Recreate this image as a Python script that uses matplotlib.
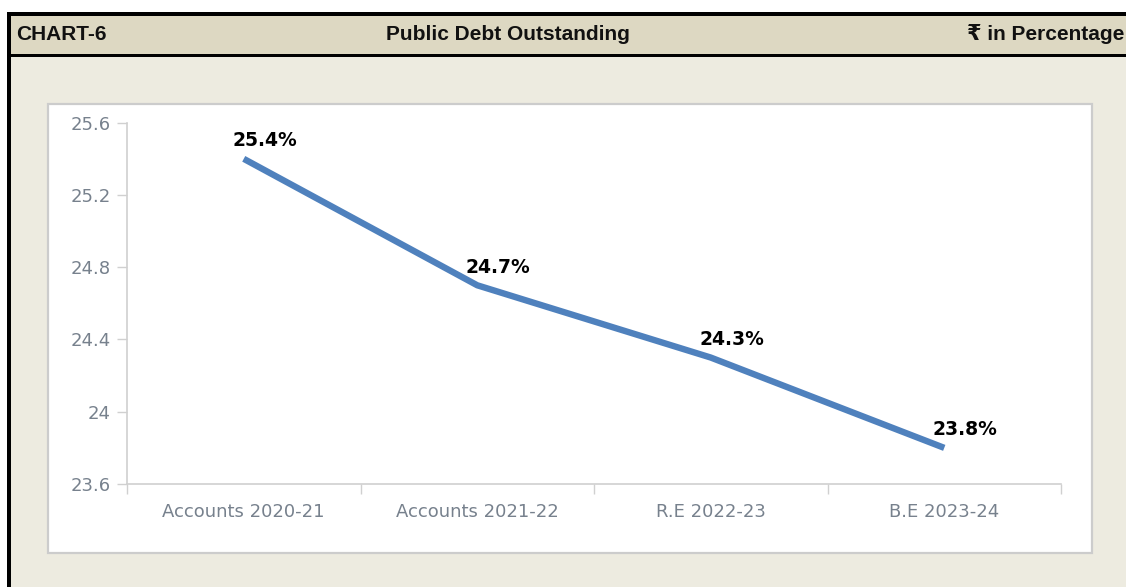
import matplotlib
matplotlib.use("Agg")
import matplotlib.pyplot as plt
from matplotlib.patches import Rectangle
from matplotlib.ticker import FuncFormatter

plt.rcParams["font.family"] = ["DejaVu Sans"]

categories = ["Accounts 2020-21", "Accounts 2021-22", "R.E 2022-23", "B.E 2023-24"]
debt_pct = [25.4, 24.7, 24.3, 23.8]
y_ticks = [23.6, 24.0, 24.4, 24.8, 25.2, 25.6]

W, H = 1126, 587
fig = plt.figure(figsize=(W / 100, H / 100), dpi=100)
fig.patch.set_facecolor("white")

# background frame drawn in pixel coords
bg = fig.add_axes([0, 0, 1, 1])
bg.set_xlim(0, W)
bg.set_ylim(H, 0)
bg.axis("off")
bg.add_patch(Rectangle((7, 12), W, H, facecolor="black", edgecolor="none"))
bg.add_patch(Rectangle((10.5, 15.5), W, H, facecolor="#edebe0", edgecolor="none"))
bg.add_patch(Rectangle((10.5, 15.5), W, 38.5, facecolor="#ddd8c2", edgecolor="none"))
bg.add_patch(Rectangle((10.5, 54), W, 3, facecolor="black", edgecolor="none"))
bg.add_patch(Rectangle((48, 104), 1044, 449, facecolor="white",
                       edgecolor="#cccccc", lw=1.6))

hdr = dict(fontsize=15, fontweight="bold", color="#111111", va="center",
           family=["Liberation Sans", "DejaVu Sans"])
bg.text(16, 34.5, "CHART-6", ha="left", **hdr)
bg.text(507.5, 34.5, "Public Debt Outstanding", ha="center", **hdr)
bg.text(1124, 34.5, "\u20b9 in Percentage", ha="right", **hdr)

# plot area
x0, x1 = 127, 1061
ytop, ybot = 122.7, 484
ax = fig.add_axes([x0 / W, (H - ybot) / H, (x1 - x0) / W, (ybot - ytop) / H])
ax.set_facecolor("none")

xs = list(range(len(categories)))
ax.plot(xs, debt_pct, color="#4f81bd", lw=4.6, solid_capstyle="butt")
for x, v in zip(xs, debt_pct):
    ax.annotate(f"{v}%", (x, v), xytext=(15, 13), textcoords="offset points",
                ha="center", va="center", fontsize=13.5, fontweight="bold",
                color="black")

ax.set_xlim(-0.5, len(categories) - 0.5)
ax.set_ylim(23.6, 25.6)
ax.set_yticks(y_ticks)
ax.yaxis.set_major_formatter(FuncFormatter(lambda v, p: f"{v:g}"))
ax.set_xticks(xs)
ax.set_xticklabels(categories)
ax.set_xticks([i - 0.5 for i in range(len(categories) + 1)], minor=True)

for s in ["top", "right"]:
    ax.spines[s].set_visible(False)
for s in ["left", "bottom"]:
    ax.spines[s].set_color("#d0d0d0")
    ax.spines[s].set_linewidth(1.2)

ax.tick_params(axis="y", length=7, width=1, color="#d0d0d0", pad=4.5,
               labelsize=13, labelcolor="#77818d")
ax.tick_params(axis="x", which="major", length=0, pad=14,
               labelsize=13, labelcolor="#77818d")
ax.tick_params(axis="x", which="minor", length=7, width=1, color="#d0d0d0")

fig.savefig("out.png", dpi=100)
